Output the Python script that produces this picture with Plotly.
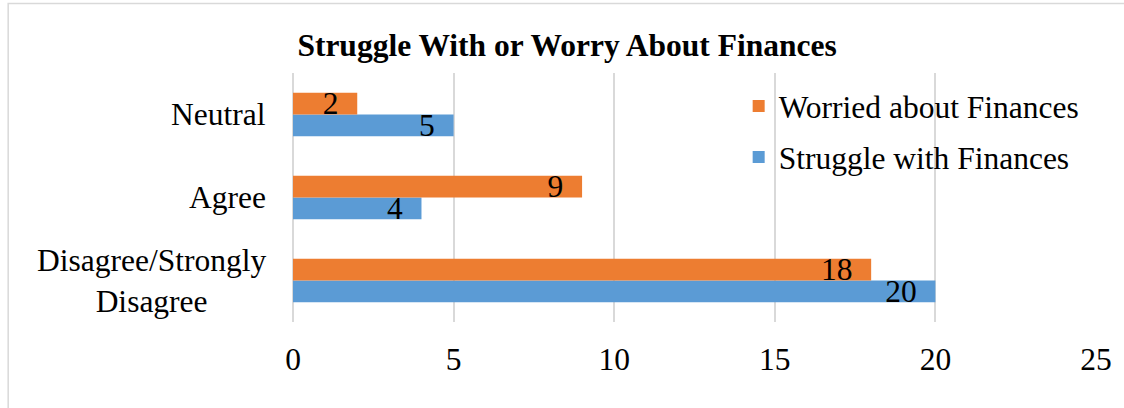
import plotly.graph_objects as go

categories = ["Disagree/Strongly Disagree", "Agree", "Neutral"]
category_labels = ["Disagree/Strongly<br>Disagree", "Agree", "Neutral"]
struggle = [20, 4, 5]
worried = [18, 9, 2]
x_ticks = [0, 5, 10, 15, 20, 25]

FONT = "Liberation Serif, Times New Roman, serif"
FS = 31.5
ORANGE = "#ED7D31"
BLUE = "#5B9BD5"
GRID = "#D9D9D9"

fig = go.Figure()
fig.add_trace(go.Bar(
    y=categories, x=struggle, orientation="h", name="Struggle with Finances",
    legendgroup="s", legendrank=2,
    marker=dict(color=BLUE, line=dict(width=0)),
    texttemplate="%{x}\u00a0\u00a0", textposition="inside", insidetextanchor="end",
    textangle=0, constraintext="none",
    textfont=dict(family=FONT, size=FS, color="black"),
    cliponaxis=False,
))
fig.add_trace(go.Bar(
    y=categories, x=worried, orientation="h", name="Worried about Finances",
    legendgroup="w", legendrank=1,
    marker=dict(color=ORANGE, line=dict(width=0)),
    texttemplate="%{x}\u00a0\u00a0", textposition="inside", insidetextanchor="end",
    textangle=0, constraintext="none",
    textfont=dict(family=FONT, size=FS, color="black"),
    cliponaxis=False,
))

for cat, lab in zip(categories, category_labels):
    fig.add_annotation(
        xref="paper", yref="y", x=-0.031, y=cat, text=lab, showarrow=False,
        xanchor="right", yanchor="middle", align="center",
        font=dict(family=FONT, size=FS, color="black"),
    )

fig.add_shape(type="rect", xref="paper", yref="paper",
              x0=-0.3547, x1=1.06, y0=-0.45, y1=1.2791,
              line=dict(color=GRID, width=1.5), fillcolor="rgba(0,0,0,0)", layer="below")

fig.update_layout(
    width=1124, height=408,
    margin=dict(l=293, r=26, t=73, b=86),
    paper_bgcolor="white", plot_bgcolor="white",
    barmode="group", bargap=0.477, bargroupgap=0,
    font=dict(family=FONT, size=FS, color="black"),
    title=dict(text="<b>Struggle With or Worry About Finances</b>",
               x=0.5045, xref="container", xanchor="center",
               y=1 - 45 / 408, yref="container", yanchor="middle",
               font=dict(family=FONT, size=FS, color="black")),
    showlegend=True,
    legend=dict(x=0.555, y=0.976, xanchor="left", yanchor="top",
                traceorder="grouped", tracegroupgap=7,
                bgcolor="rgba(0,0,0,0)",
                font=dict(family=FONT, size=FS, color="black")),
    xaxis=dict(range=[0, 25], tickvals=x_ticks, showgrid=True, gridcolor=GRID, gridwidth=1.5,
               zeroline=True, zerolinecolor=GRID, zerolinewidth=1.5, showline=False,
               ticks="", ticklabelstandoff=15, tickfont=dict(family=FONT, size=FS, color="black")),
    yaxis=dict(range=[-0.5, 2.5], showticklabels=False, showgrid=False, zeroline=False,
               showline=False, ticks=""),
)

fig.write_html("out.html", config={"displayModeBar": False},
               post_script="document.body.style.margin='0';document.body.style.overflow='hidden';")
